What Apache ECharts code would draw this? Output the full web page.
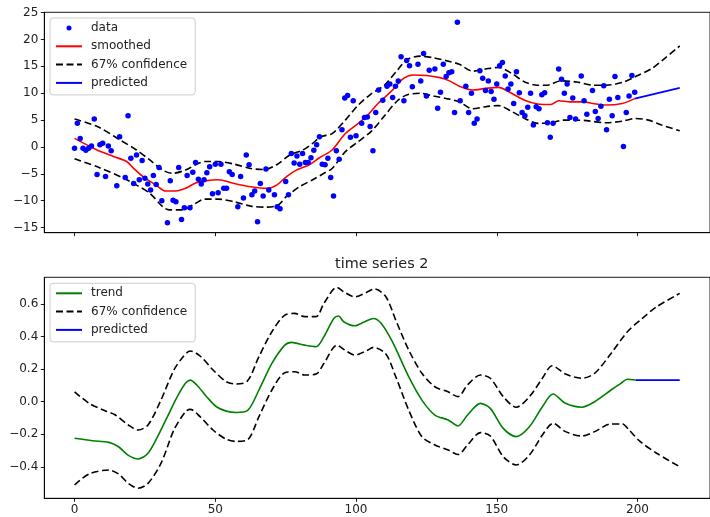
<!DOCTYPE html>
<html><head><meta charset="utf-8">
<script src="https://cdn.jsdelivr.net/npm/echarts@6/dist/echarts.min.js"></script>
<style>html,body{margin:0;padding:0;background:#fff}#c{width:710px;height:517px}</style>
</head><body><div id="c"></div>
<script>
// ---------- data ----------
const xTicks = [0, 50, 100, 150, 200];
const yTicksTop = [-15, -10, -5, 0, 5, 10, 15, 20, 25];
const yTicksBottom = [-0.4, -0.2, 0.0, 0.2, 0.4, 0.6];
const legendTop = ['data', 'smoothed', '67% confidence', 'predicted'];
const legendBottom = ['trend', '67% confidence', 'predicted'];
const title2 = 'time series 2';

const dataPoints = [
[0,-0.25],[1,4.4],[2,1.6],[3,-0.25],[4,-0.6],[5,-0.25],[6,0.2],[7,5.2],[8,-5.1],[9,0.4],[10,0.7],[11,-5.5],[12,0.2],[13,-0.7],[15,-7.2],[16,1.9],[18,-5.7],[19,5.8],[20,-2.1],[21,-6.8],[22,-1.5],[23,-6.1],[24,-2.5],[25,-5.8],[26,-6.9],[27,-8.0],[28,-5.3],[29,-7.0],[30,-3.8],[31,-10],[33,-14.1],[34,-6.3],[35,-9.9],[36,-10.2],[37,-3.8],[38,-13.5],[39,-11.3],[40,-5.3],[41,-11.3],[42,-4.7],
[43,-2.9],[44,-6.0],[45,-6.9],[46,-6.1],[47,-4.8],[48,-3.7],[49,-8.7],[50,-3.2],[51,-8.5],[52,-3.2],[53,-7.7],[54,-7.7],[55,-4.6],[56,-5.1],[58,-11.1],[59,-5.5],[60,-9.5],[61,-1.5],[62,-3.3],[63,-8.9],[64,-8.2],[65,-13.9],[66,-6.8],[67,-9.1],[68,-4.1],[69,-8.0],[71,-8.9],[72,-11.1],[73,-11.5],[75,-6.4],[76,-8.9],[77,-1.2],[78,-3.0],[79,-1.7],[80,-3.2],[81,-1.2],[82,-2.9],[83,-2.9],[84,-2.0],[85,-0.6],[86,0.4],[87,1.9],[88,-3.2],
[89,-3.3],[90,-2.1],[91,-5.7],[92,-9.1],[93,-0.7],[94,-2.3],[95,3.2],[96,9.1],[97,9.6],[98,1.8],[99,8.6],[100,2.1],[102,4.4],[103,5.5],[104,5.6],[105,3.8],[106,-0.7],[107,6.4],[108,10.6],[109.5,8.7],[111,11.3],[112,11.7],[113,9.2],[114,11.3],[115,12.3],[116,16.8],[117,8.6],[118,16.1],[119,15.1],[120,11.2],[122,15.4],[123,12.3],[124,17.4],[125,9.5],[126,14.3],[128,14.5],[129,7.2],[130,10.2],[131,15.4],[132,13.1],[133,13.8],
[134,14.0],[135,6.4],[136,23.2],[137,8.6],[139,11.3],[140,6.4],[141,10.0],[142,4.4],[143,5.2],[144,14.2],[145,12.8],[146,10.5],[147,12.3],[148,10.3],[149,8.9],[150,11.7],[151,15.1],[152,15.7],[153,13.2],[154,10.8],[155,11.7],[156,8.1],[157,14.0],[158,10.1],[159,6.4],[160,5.8],[161,7.4],[162,10.0],[163,4.1],[164,7.5],[165,7.1],[166,9.7],[167,10.1],[168,4.5],[169,1.8],[170,4.4],[172,14.5],[173,12.6],[174,10.0],[175,11.7],[176,5.5],[177,9.1],[178,5.2],
[180,13.2],[181,8.6],[182,6.1],[184,10.5],[185,6.6],[186,5.3],[187,7.6],[188,11.4],[189,3.2],[190,8.9],[191,5.8],[192,13.1],[193,9.2],[195,0.1],[196,6.4],[197,9.5],[198,13.3],[199,10.2]
];

const smoothed = [[0,1.6],[8,-0.56],[14,-1.8],[18.5,-2.7],[21,-4.0],[24.3,-5.5],[29,-7.1],[32.4,-8.2],[35.9,-8.2],[39.4,-7.7],[43,-6.7],[46.3,-6.3],[51,-6.1],[56.8,-6.8],[62.6,-7.4],[68.4,-7.7],[71.8,-7.1],[75.3,-5.5],[78.8,-4.3],[83.4,-3.3],[87,-2.0],[91.5,-0.56],[96.2,2.5],[100.8,4.4],[104.3,6.0],[107.8,8.1],[112.4,10.3],[117,12.8],[120.5,13.4],[125.1,13.3],[129.8,12.9],[133.2,12.3],[136.7,11.3],[141.4,10.6],[146,10.9],[150.6,11.1],[155.3,10.0],[159.9,8.7],[164.5,8.0],[169.2,7.9],[172,8.6],[176.1,8.4],[180.7,8.4],[184.2,8.1],[188.8,7.8],[194.6,8.1],[199,9.0]];
const predictedTop = [[199,9.0],[215,11.0]];
const upperTop = [[0,5.2],[8.1,3.8],[16.2,1.3],[22,-0.56],[26.7,-2.4],[31.3,-4.3],[34.8,-4.9],[39.4,-4.3],[43.4,-3.2],[46.3,-2.7],[51,-2.7],[56.8,-3.2],[62.6,-4.0],[67.2,-4.2],[71.8,-3.3],[76.5,-1.5],[81.1,-0.56],[84.6,0.68],[87.5,1.9],[91.5,2.5],[96.2,5.0],[100.8,7.8],[105.4,9.9],[110.1,11.5],[114.7,14.3],[118.2,16.3],[122.8,16.9],[127.5,16.6],[133.2,15.9],[136.7,15.4],[141.4,14.1],[146,14.5],[150.6,14.8],[155.3,13.7],[159.9,12.1],[164.5,11.5],[168,11.5],[172.6,12.3],[178.4,12.1],[184.2,11.5],[188.8,11.5],[194.6,12.0],[199.3,13.1],[205.1,14.6],[209.7,16.5],[215,18.8]];
const lowerTop = [[0,-2.2],[8.1,-3.7],[17.4,-5.8],[22,-7.1],[26.7,-8.6],[31.3,-11.1],[33.6,-11.7],[38.2,-11.7],[42.9,-10.5],[46.3,-9.7],[51,-9.7],[56.8,-10.2],[62.6,-11.0],[68.4,-11.2],[72.4,-10.8],[75.3,-9.2],[79.9,-7.4],[84.6,-6.1],[88.6,-4.9],[91.5,-4.0],[96.2,-0.87],[100.8,1.0],[105.4,2.9],[110.1,5.8],[114.7,8.6],[118.2,9.7],[122.8,10.0],[127.5,9.5],[133.2,8.9],[136.7,8.4],[141.4,7.1],[146,7.5],[150.6,7.7],[155.3,6.6],[159.9,5.3],[164.5,4.4],[169.2,4.5],[173.8,5.0],[178.4,5.0],[181.9,4.9],[188.8,4.5],[194.6,4.8],[199.3,5.3],[203.9,5.0],[208.5,4.1],[215,3.0]];

const trend = [[0,-0.225],[6.4,-0.24],[12.2,-0.25],[15.6,-0.277],[19.1,-0.33],[22.6,-0.352],[26.1,-0.317],[29.5,-0.215],[33,-0.092],[36.5,0.031],[39.4,0.113],[41.1,0.133],[43.4,0.103],[46.9,0.031],[50.4,-0.031],[53.9,-0.058],[57.4,-0.066],[61.4,-0.055],[65.5,0.072],[70.1,0.236],[74.7,0.348],[77.1,0.365],[81.7,0.348],[85.8,0.338],[88.6,0.40],[92.1,0.512],[93.8,0.527],[95.6,0.492],[99.6,0.467],[103.1,0.492],[106.2,0.512],[108.9,0.482],[112.9,0.369],[118.7,0.154],[123.4,0.010],[128,-0.082],[132.7,-0.112],[136.2,-0.149],[139.6,-0.082],[144.2,-0.01],[147.7,-0.041],[152.3,-0.164],[156.9,-0.215],[161.6,-0.154],[166.2,-0.031],[170,0.047],[174.4,-0.01],[180.2,-0.034],[184.8,0.0],[190.6,0.072],[194.1,0.113],[196.4,0.138],[199.3,0.133]];
const predictedBottom = [[199.3,0.133],[215,0.133]];
const upperBottom = [[0,0.061],[5.2,-0.01],[11,-0.057],[14.5,-0.082],[19.1,-0.143],[22.6,-0.174],[26.1,-0.143],[30.7,0.01],[35.3,0.195],[38.8,0.281],[41.1,0.312],[44.6,0.281],[49.2,0.195],[53.9,0.123],[57.4,0.109],[61.4,0.127],[65.5,0.277],[70.1,0.43],[74.7,0.533],[78.2,0.543],[81.7,0.523],[85.8,0.523],[88.6,0.605],[93.2,0.703],[95.6,0.676],[99.6,0.645],[103.7,0.672],[106.6,0.693],[110.6,0.645],[114.1,0.502],[118.7,0.318],[123.4,0.175],[128,0.092],[132.7,0.061],[136.2,0.031],[139.6,0.103],[144.2,0.164],[147.7,0.144],[152.3,0.031],[156.9,-0.034],[161.6,0.031],[166.2,0.144],[169.7,0.221],[174.4,0.170],[180.2,0.144],[184.8,0.175],[190.6,0.297],[196.4,0.43],[201,0.502],[206.8,0.584],[215,0.666]];
const lowerBottom = [[0,-0.512],[5.2,-0.444],[12.2,-0.42],[15.6,-0.444],[19.1,-0.502],[22.6,-0.532],[26.1,-0.502],[30.7,-0.379],[35.3,-0.174],[39.4,-0.061],[41.1,-0.047],[44.6,-0.092],[49.2,-0.174],[53.9,-0.231],[57.4,-0.244],[61.4,-0.235],[65.5,-0.092],[70.1,0.072],[74.7,0.178],[78.2,0.184],[81.7,0.164],[85.8,0.170],[88.6,0.236],[93.2,0.348],[95.6,0.322],[99.6,0.287],[103.7,0.313],[106.2,0.334],[110.6,0.293],[114.1,0.154],[118.7,-0.051],[123.4,-0.215],[128,-0.266],[132.7,-0.297],[136.2,-0.325],[139.6,-0.266],[144.2,-0.19],[147.7,-0.211],[152.3,-0.338],[156.9,-0.389],[161.6,-0.328],[166.2,-0.205],[170,-0.133],[174.4,-0.184],[180.2,-0.211],[184.8,-0.184],[190.6,-0.137],[194.6,-0.137],[197,-0.174],[201,-0.246],[206.8,-0.317],[215,-0.4]];

// ---------- chart ----------
const FONT = 'DejaVu Sans';
const minus = v => (v < 0 ? '\u2212' : '') + Math.abs(v);
const dash = [7, 3.5];
const LW = 1.6;

function xAxisCfg(gridIndex, showLabels) {
  return {
    type: 'value', gridIndex, min: -10.75, max: 225.75,
    splitLine: {show: false},
    axisLine: {show: true, onZero: false, lineStyle: {color: '#000', width: 0.9}},
    axisTick: {show: true, length: 3.5, lineStyle: {color: '#000', width: 0.9}, customValues: xTicks},
    axisLabel: {show: showLabels, customValues: xTicks, color: '#222', fontFamily: FONT, fontSize: 12, margin: 6, formatter: v => String(v)}
  };
}
function yAxisCfg(gridIndex, min, max, ticks, fmt) {
  return {
    type: 'value', gridIndex, min, max,
    splitLine: {show: false},
    axisLine: {show: true, onZero: false, lineStyle: {color: '#000', width: 0.9}},
    axisTick: {show: true, length: 3.5, lineStyle: {color: '#000', width: 0.9}, customValues: ticks},
    axisLabel: {customValues: ticks, color: '#222', fontFamily: FONT, fontSize: 12, margin: 6, formatter: fmt}
  };
}
function lineSeries(name, data, color, idx, dashed) {
  return {
    type: 'line', name, data, xAxisIndex: idx, yAxisIndex: idx,
    symbol: 'none', smooth: 0.3, silent: true,
    lineStyle: {color, width: LW, type: dashed ? dash : 'solid'},
    itemStyle: {color}
  };
}
const legendCommon = {
  orient: 'vertical', left: 50, itemWidth: 26, itemHeight: 5, itemGap: 6.3,
  padding: [4, 8, 6, 5], backgroundColor: 'rgba(255,255,255,0.85)',
  borderColor: '#cccccc', borderWidth: 1, borderRadius: 3,
  textStyle: {fontFamily: FONT, fontSize: 12, color: '#222', padding: [0, 0, 0, 4]},
  selectedMode: false
};
const lineItem = n => ({name: n, itemStyle: {opacity: 0}});

const chart = echarts.init(document.getElementById('c'), null, {renderer: 'canvas'});
chart.setOption({
  animation: false,
  backgroundColor: '#fff',
  title: {text: title2, left: 335, top: 257, padding: 0,
    textStyle: {fontFamily: FONT, fontSize: 14.4, fontWeight: 'normal', color: '#222'}},
  grid: [
    {left: 44.3, top: 12.3, width: 680.5, height: 220.4, show: true, borderColor: '#000', borderWidth: 0.9, backgroundColor: 'transparent'},
    {left: 44.3, top: 277.3, width: 680.5, height: 221, show: true, borderColor: '#000', borderWidth: 0.9, backgroundColor: 'transparent'}
  ],
  xAxis: [xAxisCfg(0, false), xAxisCfg(1, true)],
  yAxis: [
    yAxisCfg(0, -15.95, 25.06, yTicksTop, v => minus(v)),
    yAxisCfg(1, -0.594, 0.765, yTicksBottom, v => (v < 0 ? '\u2212' : '') + Math.abs(v).toFixed(1))
  ],
  legend: [
    Object.assign({}, legendCommon, {top: 18, data: legendTop.map(n => n === 'data' ? {name: n, icon: 'circle', itemStyle: {opacity: 1}} : lineItem(n))}),
    Object.assign({}, legendCommon, {top: 283.3, data: legendBottom.map(lineItem)})
  ],
  series: [
    {type: 'scatter', name: 'data', data: dataPoints, xAxisIndex: 0, yAxisIndex: 0,
      symbol: 'circle', symbolSize: 5.5, itemStyle: {color: '#0000ff', opacity: 1}, silent: true, z: 3},
    lineSeries('smoothed', smoothed, '#ff0000', 0, false),
    lineSeries('67% confidence', upperTop, '#000000', 0, true),
    lineSeries('67% confidence', lowerTop, '#000000', 0, true),
    lineSeries('predicted', predictedTop, '#0000ff', 0, false),
    lineSeries('trend', trend, '#008000', 1, false),
    lineSeries('67% confidence', upperBottom, '#000000', 1, true),
    lineSeries('67% confidence', lowerBottom, '#000000', 1, true),
    lineSeries('predicted', predictedBottom, '#0000ff', 1, false)
  ]
});
</script></body></html>
